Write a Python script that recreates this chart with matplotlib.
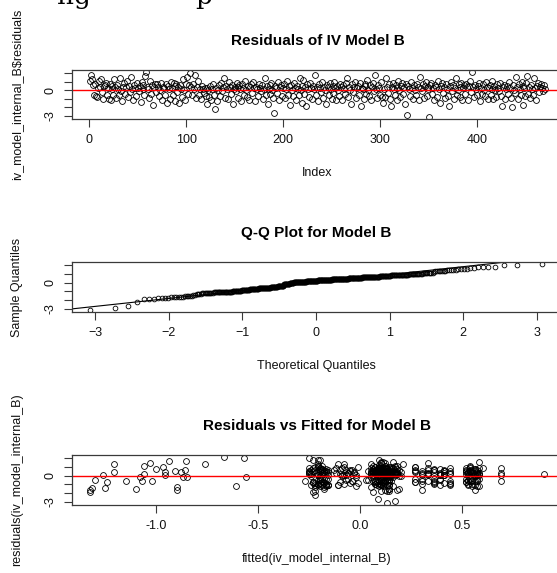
import numpy as np
import matplotlib
matplotlib.use("Agg")
import matplotlib.pyplot as plt
from statistics import NormalDist

plt.rcParams['font.family'] = ['Liberation Sans', 'DejaVu Sans']

# residuals of IV model B, in index order
residuals_B = np.array([
    1.14, 1.80, 1.37, 0.62, -0.55, 0.72, -0.70, -0.82, 0.30, 1.10,
    0.45, 1.37, -0.20, -1.05, 0.48, 0.60, 0.85, -0.50, 0.22, -1.00,
    0.75, -1.08, 0.20, 0.55, -0.60, 1.30, 0.35, -0.95, 0.68, 0.10,
    -0.60, 1.45, -0.05, -1.20, 0.40, 0.82, -0.45, 0.35, 1.10, -0.77,
    0.52, -0.15, 1.62, 0.15, -1.15, 0.66, 0.28, -0.70, 0.90, 0.25,
    -0.10, 0.48, -1.35, 0.95, 0.12, 0.58, -0.50, 1.70, 2.18, 0.38,
    0.18, -0.87, 1.05, -0.45, 0.62, -1.70, 0.45, 0.75, -0.15, 0.80,
    0.42, -0.65, 0.05, 0.88, -1.15, 0.40, 0.22, -0.55, 0.70, -1.45,
    0.55, 0.10, -1.02, 1.00, 0.30, -0.55, 0.85, -1.30, 0.50, 0.76,
    -0.20, 0.45, -1.50, 0.64, 0.18, -0.75, 1.30, 0.05, -1.10, 0.70,
    1.55, -0.40, 0.58, 2.00, 0.45, -0.60, 0.80, 0.15, 1.83, -0.92,
    0.36, 1.10, -0.60, 0.20, -1.04, 0.54, 0.10, -0.36, 0.32, -0.72,
    0.25, -1.60, 0.02, -0.80, 0.46, -1.15, 0.12, 0.72, -0.56, -2.20,
    0.30, -1.25, 0.08, 0.62, -0.64, 0.86, -0.12, 0.40, 1.40, -0.85,
    0.50, 0.18, -0.98, 0.96, 0.34, -0.42, 0.66, -1.55, 0.20, 0.44,
    -0.08, 0.92, 0.38, -0.90, 0.58, 0.14, -1.20, 0.74, 0.28, -0.60,
    1.05, 0.06, -0.75, 0.52, -1.08, 0.40, 0.70, -0.36, 0.98, 0.24,
    -1.30, 0.44, 0.10, -0.70, 0.78, 0.32, -0.12, 0.62, -1.02, 0.20,
    1.50, -0.56, 0.50, -1.60, 0.16, 0.68, -0.45, 0.84, 0.02, -0.86,
    -2.67, 0.48, 0.28, -0.32, 0.94, -1.15, 0.36, 0.60, -0.66, 0.22,
    0.72, -0.96, 0.14, 1.12, -0.50, 0.46, -1.75, 0.64, 0.06, -0.70,
    0.90, 0.30, -1.12, 0.56, 0.20, -0.55, 1.45, 0.00, -1.50, 0.48,
    1.26, -0.40, 0.36, -1.80, 0.70, 0.10, -0.76, 0.82, 0.32, -1.05,
    0.52, 0.16, 1.83, -0.60, 0.40, -1.22, 0.74, 0.26, -0.14, 0.96,
    -0.85, 0.44, 0.04, -1.65, 0.60, 0.34, -0.52, 0.88, 0.12, -0.98,
    0.56, -0.34, 1.02, 0.28, -1.15, 0.48, 0.00, -0.72, 0.78, 0.36,
    -1.10, 0.64, 0.20, -0.48, 0.90, 1.50, -0.80, 0.40, 0.08, -1.55,
    0.70, -0.16, 0.44, 1.00, -0.94, 0.24, 0.54, -0.60, 0.82, -1.80,
    0.32, 0.12, -1.04, 0.72, 0.46, -0.44, 1.18, 0.04, -0.66, 0.60,
    -1.10, 0.38, 0.86, -0.12, 1.80, 0.20, -0.86, 0.58, 0.28, -0.50,
    0.94, -0.74, -1.45, 0.10, -0.78, 1.40, 0.34, -0.34, 0.70, -1.05,
    -1.80, 0.42, 0.84, 0.18, -0.58, 0.66, -1.10, 0.26, 1.08, 0.02,
    -0.84, 0.52, 0.92, -0.42, 0.38, -1.60, 0.74, -2.86, 0.46, 0.14,
    -0.72, 1.00, 0.30, -1.00, 0.62, 0.06, -0.54, 0.80, 0.34, -1.15,
    1.60, 0.22, -0.12, 0.70, -0.90, 0.48, 0.96, -0.64, 0.10, 0.42,
    -3.16, 0.58, 0.88, -0.46, 0.26, -1.10, 0.66, 0.38, -0.76, 1.10,
    0.14, -1.50, 0.54, 0.84, -0.34, 0.34, -0.96, 0.72, 0.18, -0.66,
    -1.90, 0.46, 1.02, -0.08, 0.62, -1.04, 0.30, 1.45, -0.50, 0.06,
    0.76, -0.82, 0.42, 0.92, -1.10, 0.22, 0.58, -0.42, 0.80, 0.34,
    -1.08, 0.50, 1.12, -0.16, 2.10, 0.38, -0.84, 0.68, 0.14, -0.60,
    0.54, 0.90, -1.20, 0.26, -0.38, 0.72, 0.08, -0.72, 0.98, 0.42,
    -1.02, 0.30, 0.64, -0.52, 1.06, 0.18, -1.05, 0.50, 0.02, -0.76,
    0.78, 0.22, -0.12, 0.86, -0.64, -1.90, 0.38, 0.68, -1.05, 0.14,
    0.46, -0.46, 0.94, 0.26, -0.86, -1.92, 0.60, 0.06, -0.34, 1.60,
    0.34, -1.00, 0.72, 0.10, -0.56, 1.00, -1.70, 0.52, 0.22, -0.72,
    0.84, 1.70, -0.42, 0.42, -0.96, 0.64, 0.14, -0.60, 1.40, 0.26,
    -1.10, 0.54, 0.88, -0.16, 0.38, 0.76, 0.30, -0.06, 0.66, 0.20,
])

# fitted values of IV model B, same order
fitted_B = np.array([
    0.12, -0.20, 0.05, 0.33, 0.09, 0.55, 0.14, -0.18, -0.06, -1.06,
    0.07, 0.21, -1.08, 0.11, -1.21, 0.54, -0.23, 0.03, 0.39, 0.10,
    -0.17, 0.13, 0.90, 0.06, -1.15, -1.21, 0.18, -0.21, 0.56, 0.08,
    0.15, -1.03, -0.09, 0.11, 0.36, -0.19, 0.04, 0.69, 0.12, 0.52,
    -0.25, 0.10, 0.16, 0.30, -0.02, 0.57, 0.08, -1.24, 0.13, -1.06,
    -0.85, 0.20, -0.22, 0.05, 0.41, 0.11, -1.30, -0.94, -0.67, 0.09,
    0.53, -0.18, -0.97, 0.14, -0.07, -0.90, -0.96, -1.00, -0.87, 0.12,
    0.06, -1.02, 0.33, -0.20, -0.61, 0.17, 0.58, -0.04, 0.10, -1.25,
    0.44, -0.96, -0.16, 0.07, 0.55, -1.07, 0.69, -0.90, -0.91, 0.13,
    -0.56, 0.09, -1.10, 0.19, -0.24, 0.27, -0.76, -1.26, -0.19, -0.86,
    0.11, 0.54, 0.08, -0.25, -0.88, 0.69, 0.15, -0.10, 0.09, 0.36,
    0.05, -0.21, 0.12, 0.56, -0.17, 0.10, 0.69, 0.39, 0.14, -0.23,
    0.07, 0.18, 0.53, -0.05, 0.11, -0.20, 0.30, 0.09, 0.57, -0.22,
    0.13, -0.18, 0.06, 0.41, -0.27, 0.15, 0.10, 0.55, -0.08, 0.12,
    0.04, 0.33, -0.21, 0.17, 0.08, 0.52, -0.16, 0.14, 0.11, -0.03,
    0.20, 0.09, -0.25, 0.44, 0.06, 0.13, 0.58, -0.19, 0.10, 0.36,
    -0.22, 0.15, 0.07, 0.54, -0.11, 0.12, 0.27, -0.18, 0.09, 0.16,
    0.05, -0.20, 0.39, 0.11, 0.56, -0.06, 0.14, 0.08, -0.24, 0.18,
    0.10, 0.53, -0.17, 0.30, 0.13, 0.07, -0.21, 0.60, 0.12, -0.01,
    0.085, 0.16, 0.41, -0.19, 0.09, 0.55, 0.14, -0.23, 0.06, 0.33,
    0.11, -0.08, 0.57, 0.17, -0.20, 0.10, 0.13, 0.36, -0.16, 0.08,
    0.52, 0.15, -0.22, 0.07, 0.44, -0.04, 0.12, 0.19, -0.18, 0.54,
    0.09, 0.27, -0.25, 0.14, 0.10, 0.56, -0.10, 0.06, 0.39, -0.21,
    0.13, 0.18, -0.21, 0.08, 0.53, -0.17, 0.11, 0.30, -0.02, 0.15,
    -0.23, 0.07, 0.58, 0.12, 0.41, -0.19, 0.10, 0.16, -0.07, 0.55,
    0.05, -0.20, 0.14, 0.33, 0.09, 0.57, -0.24, 0.11, 0.36, 0.17,
    -0.16, 0.08, 0.52, 0.13, -0.12, 0.10, 0.44, 0.06, -0.21, 0.19,
    0.54, 0.12, -0.18, 0.27, 0.09, 0.15, -0.05, 0.56, 0.11, -0.22,
    0.07, 0.39, 0.14, -0.20, 0.10, 0.53, 0.18, -0.09, 0.30, 0.08,
    -0.17, 0.13, 0.58, 0.05, -0.23, 0.11, 0.41, 0.16, -0.03, 0.55,
    0.09, -0.19, -1.315, 0.12, 0.36, -0.21, 0.14, 0.57, 0.07, -0.11,
    0.10, 0.52, -0.25, 0.17, 0.33, 0.08, -0.16, 0.13, 0.54, 0.06,
    -0.20, 0.11, 0.44, -0.06, 0.15, 0.56, 0.09, 0.17, -0.18, 0.12,
    0.27, 0.07, -0.22, 0.53, 0.14, -0.08, 0.10, 0.39, -0.19, 0.16,
    0.58, 0.05, 0.11, -0.24, 0.30, 0.13, -0.01, 0.55, 0.09, -0.17,
    0.13, 0.41, -0.20, 0.12, 0.57, 0.08, -0.10, 0.18, 0.36, 0.06,
    -0.21, 0.14, 0.52, 0.10, -0.16, 0.44, 0.07, -0.04, 0.15, 0.54,
    -0.23, 0.11, 0.27, 0.09, -0.18, 0.56, 0.13, 0.33, -0.07, 0.17,
    0.08, -0.20, 0.53, 0.12, 0.39, -0.25, 0.14, 0.58, 0.06, -0.12,
    0.10, 0.30, -0.19, 0.16, -0.57, 0.55, 0.11, -0.22, 0.41, 0.07,
    0.13, -0.09, 0.57, 0.18, -0.17, 0.36, 0.09, 0.52, -0.21, 0.12,
    0.44, 0.05, -0.05, 0.14, 0.54, -0.24, 0.10, 0.27, 0.15, -0.18,
    0.56, 0.08, -0.20, 0.33, 0.11, 0.06, 0.17, -0.13, 0.53, 0.09,
    -0.16, 0.39, 0.12, 0.58, -0.22, -1.325, 0.14, -0.02, 0.30, 0.10,
    0.55, 0.07, -0.19, 0.41, 0.13, -0.08, -1.325, 0.11, 0.57, -0.23,
    0.16, -0.855, 0.36, 0.09, -0.17, 0.52, 0.12, 0.44, -0.11, 0.06,
    0.14, -0.21, 0.54, 0.10, 0.27, 0.18, -0.06, 0.56, 0.08, 0.13,
])

titles = ["Residuals of IV Model B", "Q-Q Plot for Model B",
          "Residuals vs Fitted for Model B"]
xlabels = ["Index", "Theoretical Quantiles", "fitted(iv_model_internal_B)"]
ylabels = ["iv_model_internal_B$residuals", "Sample Quantiles",
           "residuals(iv_model_internal_B)"]

n = len(residuals_B)
index = np.arange(1, n + 1)

# qqnorm / qqline as R does it
nd = NormalDist()
theo = np.array([nd.inv_cdf((i - 0.5) / n) for i in index])
sample = np.sort(residuals_B)
q_y = np.quantile(residuals_B, [0.25, 0.75])
q_x = np.array([nd.inv_cdf(0.25), nd.inv_cdf(0.75)])
slope = (q_y[1] - q_y[0]) / (q_x[1] - q_x[0])
intercept = q_y[0] - slope * q_x[0]


def rlim(v):
    lo, hi = np.min(v), np.max(v)
    d = 0.04 * (hi - lo)
    return lo - d, hi + d


W, H = 557, 573
fig = plt.figure(figsize=(W / 100, H / 100), dpi=100)

# bottom edge of the document text line above the figure (cut off)
fig.text(57 / W, 1 - 4 / H, "ng", family='DejaVu Serif', fontsize=19, va='baseline')
fig.text(195 / W, 1 - 4 / H, "p", family='DejaVu Serif', fontsize=19, va='baseline')


def panel(left, right, top, bottom):
    ax = fig.add_axes([left / W, 1 - bottom / H, (right - left) / W, (bottom - top) / H])
    for s in ax.spines.values():
        s.set_linewidth(0.9)
        s.set_color('#3a3a3a')
    ax.tick_params(length=6, width=0.8, color='#3a3a3a', labelsize=9, pad=5,
                   labelcolor='#111111')
    ax.set_yticks([-3, -2, -1, 0, 1, 2])
    ax.set_yticklabels(['-3', '', '', '0', '', ''], rotation=90, va='center')
    return ax


def finish(ax, k, box_h, box_w):
    ax.text(0.5, 1 + 29 / box_h, titles[k], transform=ax.transAxes, ha='center',
            va='center', fontsize=11, fontweight='bold')
    ax.set_xlabel(xlabels[k], fontsize=9, va='center', color='#111111')
    ax.xaxis.set_label_coords(0.5, -54 / box_h)
    ax.set_ylabel(ylabels[k], fontsize=9, va='center', color='#111111')
    ax.yaxis.set_label_coords(-55 / box_w, 0.5)


pt = dict(ls='none', marker='o', mfc='none', mec='black', ms=4.2, mew=0.6)

# 1: residuals by index
ax1 = panel(72, 563, 70, 119)
ax1.plot(index, residuals_B, **pt)
ax1.axhline(0, color='red', lw=1)
ax1.set_xlim(rlim(index))
ax1.set_ylim(rlim(residuals_B))
ax1.set_xticks([0, 100, 200, 300, 400])
finish(ax1, 0, 49, 491)

# 2: normal Q-Q plot
ax2 = panel(72, 560, 262, 312)
ax2.plot(theo, sample, **dict(pt, ms=3.4))
ax2.set_xlim(rlim(theo))
ax2.set_ylim(rlim(sample))
ax2.axline((0, intercept), slope=slope, color='black', lw=0.8)
ax2.set_xticks([-3, -2, -1, 0, 1, 2, 3])
finish(ax2, 1, 50, 488)

# 3: residuals vs fitted
ax3 = panel(72, 562, 455, 505)
ax3.plot(fitted_B, residuals_B, **pt)
ax3.axhline(0, color='red', lw=1)
ax3.set_xlim(rlim(fitted_B))
ax3.set_ylim(rlim(residuals_B))
ax3.set_xticks([-1.0, -0.5, 0.0, 0.5])
ax3.set_xticklabels(['-1.0', '-0.5', '0.0', '0.5'])
finish(ax3, 2, 50, 490)

fig.savefig('out.png', dpi=100)
